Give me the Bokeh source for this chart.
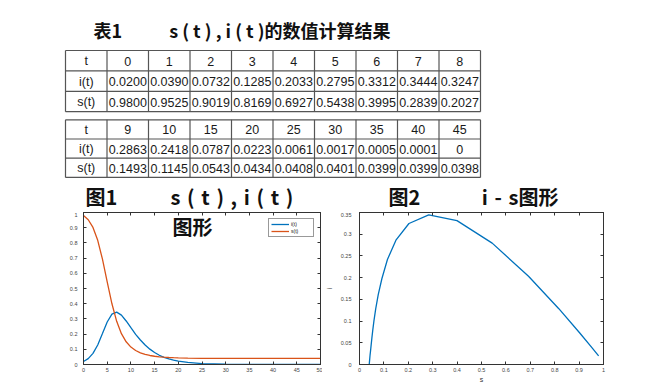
from bokeh.plotting import figure
from bokeh.layouts import column, row
from bokeh.models import (Range1d, LinearAxis, Label, Legend, LegendItem,
                          FixedTicker, CustomJSTickFormatter)
from bokeh.core.properties import value
from bokeh.embed import file_html
from bokeh.resources import INLINE

# ---------------- table data ----------------
t_row1 = [0, 1, 2, 3, 4, 5, 6, 7, 8]
i_row1 = [0.0200, 0.0390, 0.0732, 0.1285, 0.2033, 0.2795, 0.3312, 0.3444, 0.3247]
s_row1 = [0.9800, 0.9525, 0.9019, 0.8169, 0.6927, 0.5438, 0.3995, 0.2839, 0.2027]
t_row2 = [9, 10, 15, 20, 25, 30, 35, 40, 45]
i_row2 = [0.2863, 0.2418, 0.0787, 0.0223, 0.0061, 0.0017, 0.0005, 0.0001, 0.0]
s_row2 = [0.1493, 0.1145, 0.0543, 0.0434, 0.0408, 0.0401, 0.0399, 0.0399, 0.0398]
row_labels = ["t", "i(t)", "s(t)"]

# ---------------- curve data ----------------
t_curve = [0, 1, 2, 3, 4, 5, 6, 7, 8, 9, 10, 11, 12, 13, 14, 15, 16, 17, 18, 19, 20,
           22, 25, 30, 35, 40, 45, 50]
i_curve = [0.0200, 0.0390, 0.0732, 0.1285, 0.2033, 0.2795, 0.3312, 0.3444, 0.3247, 0.2863, 0.2418,
           0.198, 0.161, 0.128, 0.101, 0.0787, 0.0606, 0.0470, 0.0365, 0.0285, 0.0223,
           0.0136, 0.0061, 0.0017, 0.0005, 0.0001, 0.0, 0.0]
s_curve = [0.9800, 0.9525, 0.9019, 0.8169, 0.6927, 0.5438, 0.3995, 0.2839, 0.2027, 0.1493, 0.1145,
           0.0919, 0.0768, 0.0664, 0.0593, 0.0543, 0.0507, 0.0481, 0.0462, 0.0447, 0.0434,
           0.0420, 0.0408, 0.0401, 0.0399, 0.0399, 0.0398, 0.0398]

# ticks
f1_xticks = [0, 5, 10, 15, 20, 25, 30, 35, 40, 45, 50]
f1_yticks = [0, 0.1, 0.2, 0.3, 0.4, 0.5, 0.6, 0.7, 0.8, 0.9, 1]
f2_xticks = [0, 0.1, 0.2, 0.3, 0.4, 0.5, 0.6, 0.7, 0.8, 0.9, 1]
f2_yticks = [0, 0.05, 0.1, 0.15, 0.2, 0.25, 0.3, 0.35]

CJK = "Noto Sans CJK SC"
LAT = "Liberation Sans"
W = 650
TOP_H = 212
BOT_H = 173
BLUE = "#0072BD"
ORANGE = "#D95319"
SP = "\u2004"


def fmt(v):
    return "0" if v == 0 else f"{v:.4f}"


# ---------------- top: titles + tables ----------------
top = figure(width=W, height=TOP_H, x_range=Range1d(0, W), y_range=Range1d(TOP_H, 0),
             output_backend="svg", toolbar_location=None, x_axis_type=None, y_axis_type=None,
             min_border=0)
top.outline_line_color = None
top.background_fill_color = "white"
top.border_fill_color = "white"


def head_text(x, y, text, align="left", size="18px"):
    top.text(x=[x], y=[y], text=[text], text_font=value(CJK), text_font_style="bold",
             text_font_size=size, text_align=align, text_baseline="middle",
             text_color="#111111")


head_text(93, 29, "表1")
head_text(390, 29, "s ( t ) , i ( t )的数值计算结果", align="right")
head_text(85, 196, "图1", size="20px")
head_text(170, 196, SP.join(["s", "(", "t", ")", ",", "i", "(", "t", ")"]), size="20px")
head_text(388, 196, "图2", size="20px")
head_text(558, 196, SP.join(["i", "-", "s"]) + "图形", align="right", size="20px")


def draw_table(p, top_y, row_h, heads, irow, srow):
    x0, cw = 65, 41.5
    ncol = len(heads) + 1
    ys = [top_y + k * row_h for k in range(4)]
    xs = [x0 + k * cw for k in range(ncol + 1)]
    p.segment(x0=[xs[0]] * len(ys), y0=ys, x1=[xs[-1]] * len(ys), y1=ys,
              line_color="#555555", line_width=1.2)
    p.segment(x0=xs, y0=[ys[0]] * len(xs), x1=xs, y1=[ys[-1]] * len(xs),
              line_color="#555555", line_width=1.2)
    rows = [[str(v) for v in heads], [fmt(v) for v in irow], [fmt(v) for v in srow]]
    tx, ty, tt = [], [], []
    for r in range(3):
        cy = (ys[r] + ys[r + 1]) / 2 + 0.5
        tx.append((xs[0] + xs[1]) / 2)
        ty.append(cy)
        tt.append(row_labels[r])
        for c, s in enumerate(rows[r]):
            tx.append((xs[c + 1] + xs[c + 2]) / 2)
            ty.append(cy)
            tt.append(s)
    p.text(x=tx, y=ty, text=tt, text_font=value(LAT), text_font_size="12.5px",
           text_align="center", text_baseline="middle", text_color="#1a1a1a")


draw_table(top, 50, 20.4, t_row1, i_row1, s_row1)
draw_table(top, 119.3, 19.2, t_row2, i_row2, s_row2)


# ---------------- chart helpers ----------------
def style_axes(p, xt, yt, ylab_standoff):
    label_fmt = CustomJSTickFormatter(code="return String(Math.round(tick*1000)/1000);")
    blank_fmt = CustomJSTickFormatter(code="return '';")
    p.add_layout(LinearAxis(), "above")
    p.add_layout(LinearAxis(), "right")
    for ax in p.xaxis:
        ax.ticker = FixedTicker(ticks=xt)
    for ax in p.yaxis:
        ax.ticker = FixedTicker(ticks=yt)
    for ax in list(p.xaxis) + list(p.yaxis):
        ax.major_tick_in = 3
        ax.major_tick_out = 0
        ax.minor_tick_line_color = None
        ax.axis_line_color = "#333333"
        ax.major_tick_line_color = "#333333"
        ax.major_label_text_font = LAT
        ax.major_label_text_font_size = "5.5px"
        ax.major_label_text_color = "#444444"
        ax.formatter = label_fmt
    for ax in p.below:
        ax.major_label_standoff = 3
    for ax in p.left:
        ax.major_label_standoff = ylab_standoff
    for ax in list(p.above) + list(p.right):
        ax.formatter = blank_fmt
        ax.major_label_text_font_size = "0px"
        ax.major_label_standoff = 0
    p.grid.visible = False
    p.outline_line_color = "#333333"
    p.background_fill_color = "white"
    p.border_fill_color = "white"


# ---------------- figure 1: s(t), i(t) ----------------
f1 = figure(width=322, height=BOT_H, x_range=Range1d(0, 50), y_range=Range1d(0, 1),
            output_backend="svg", toolbar_location=None,
            min_border_left=83, min_border_right=2, min_border_top=0, min_border_bottom=19)
style_axes(f1, f1_xticks, f1_yticks, 6)
r_i = f1.line(t_curve, i_curve, line_color=BLUE, line_width=1.3)
r_s = f1.line(t_curve, s_curve, line_color=ORANGE, line_width=1.3)
leg = Legend(items=[LegendItem(label="i(t)", renderers=[r_i]),
                    LegendItem(label="s(t)", renderers=[r_s])],
             location="top_right", margin=6, padding=2, spacing=1,
             glyph_height=6, glyph_width=18, label_height=6, label_standoff=2,
             label_text_font=LAT, label_text_font_size="5px", label_text_color="#111111",
             border_line_color="#333333", border_line_width=1)
f1.add_layout(leg)
f1.add_layout(Label(x=18.8, y=0.905, text="图形", text_font=CJK, text_font_style="bold",
                    text_font_size="20px", text_align="left", text_baseline="middle",
                    text_color="#111111"))

# ---------------- figure 2: i - s ----------------
f2 = figure(width=328, height=BOT_H, x_range=Range1d(0, 1), y_range=Range1d(0, 0.35),
            output_backend="svg", toolbar_location=None,
            min_border_left=31, min_border_right=47, min_border_top=0, min_border_bottom=19)
style_axes(f2, f2_xticks, f2_yticks, 8)
ax_s = f2.below[0]
ax_i = f2.left[0]
ax_i.axis_label = "i"
ax_s.axis_label = "s"
for ax in (ax_i, ax_s):
    ax.axis_label_text_font = LAT
    ax.axis_label_text_font_style = "normal"
    ax.axis_label_text_font_size = "7px"
    ax.axis_label_text_color = "#333333"
ax_i.axis_label_standoff = 5
ax_s.axis_label_standoff = 1
f2.line(s_curve, i_curve, line_color=BLUE, line_width=1.3)

layout = column(top, row(f1, f2, spacing=0), spacing=0)
open("out.html", "w").write(file_html(layout, INLINE))
